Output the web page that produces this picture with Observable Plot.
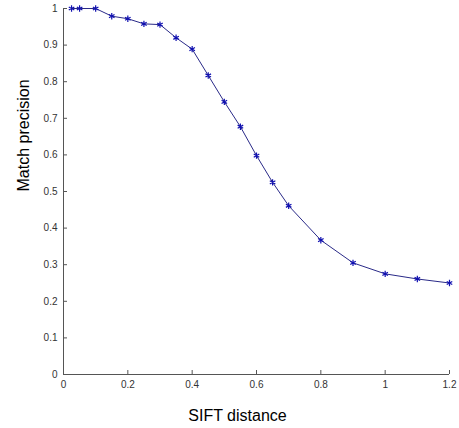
<!DOCTYPE html>
<html>
<head>
<meta charset="utf-8">
<script src="https://cdn.jsdelivr.net/npm/d3@7"></script>
<script src="https://cdn.jsdelivr.net/npm/@observablehq/plot@0.6"></script>
<style>
  html, body { margin: 0; padding: 0; background: #fff; }
  #chart svg { display: block; }
</style>
</head>
<body>
<div id="chart"></div>
<script>
const distance = [0.025, 0.05, 0.1, 0.15, 0.2, 0.25, 0.3, 0.35, 0.4, 0.45, 0.5, 0.55, 0.6, 0.65, 0.7, 0.8, 0.9, 1.0, 1.1, 1.2];
const precision = [1, 1, 1, 0.979, 0.972, 0.958, 0.956, 0.92, 0.889, 0.817, 0.745, 0.677, 0.598, 0.525, 0.461, 0.367, 0.305, 0.275, 0.261, 0.250];
const xTicks = [0, 0.2, 0.4, 0.6, 0.8, 1, 1.2];
const xTickLabels = ["0", "0.2", "0.4", "0.6", "0.8", "1", "1.2"];
const yTicks = [0, 0.1, 0.2, 0.3, 0.4, 0.5, 0.6, 0.7, 0.8, 0.9, 1];
const yTickLabels = ["0", "0.1", "0.2", "0.3", "0.4", "0.5", "0.6", "0.7", "0.8", "0.9", "1"];
const xLabel = "SIFT distance";
const yLabel = "Match precision";

const data = distance.map((d, i) => ({x: d, y: precision[i]}));
const axisColor = "#555";

const chart = Plot.plot({
  width: 459,
  height: 428,
  marginLeft: 63,
  marginRight: 10,
  marginTop: 8,
  marginBottom: 54,
  x: {domain: [0, 1.2]},
  y: {domain: [0, 1]},
  style: {fontFamily: "'Liberation Sans', Arial, sans-serif", fontSize: "10px", color: "#333", background: "#fff"},
  marks: [
    Plot.ruleY([0], {stroke: axisColor}),
    Plot.ruleX([0], {stroke: axisColor}),
    Plot.axisX({ticks: xTicks, tickFormat: (d, i) => xTickLabels[i], tickSize: -4, tickPadding: 10, stroke: axisColor, label: null}),
    Plot.axisY({ticks: yTicks, tickFormat: (d, i) => yTickLabels[i], tickSize: -4, tickPadding: 10, stroke: axisColor, label: null}),
    Plot.line(data, {x: "x", y: "y", stroke: "#2a2a88", strokeWidth: 1}),
    Plot.dot(data, {x: "x", y: "y", symbol: "asterisk", r: 3, stroke: "#1010b0", strokeWidth: 1.2}),
    Plot.text([xLabel], {frameAnchor: "bottom", text: d => d, dx: -19, dy: 46, lineAnchor: "bottom", fontSize: 16, fill: "#000"}),
    Plot.text([yLabel], {frameAnchor: "left", text: d => d, rotate: -90, dx: -40, lineAnchor: "middle", fontSize: 16, fill: "#000"})
  ]
});
document.getElementById("chart").appendChild(chart);
</script>
</body>
</html>
